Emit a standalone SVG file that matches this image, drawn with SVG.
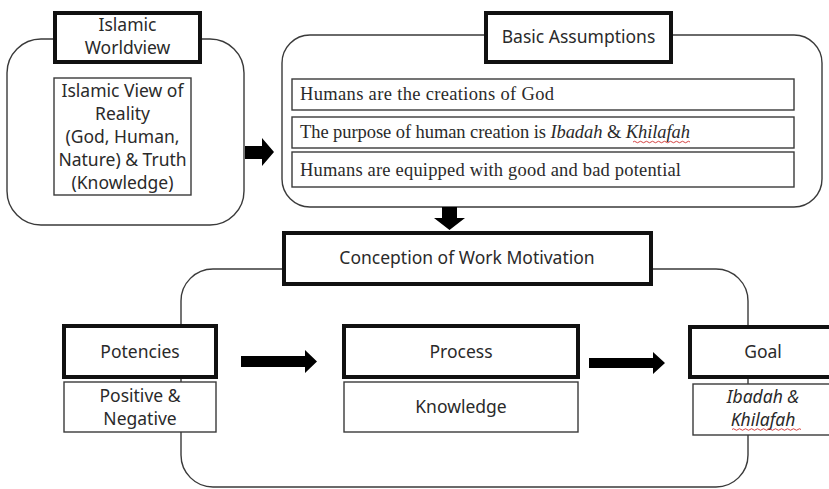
<svg xmlns="http://www.w3.org/2000/svg" width="829" height="489" viewBox="0 0 829 489">
<style>
.bg{fill:#ffffff}
.outer{fill:none;stroke:#3a3a3a;stroke-width:1.4}
.thick{fill:#ffffff;stroke:#111111;stroke-width:4}
.thin{fill:#ffffff;stroke:#3a3a3a;stroke-width:1.4}
.sans{font-family:"Noto Sans","Open Sans","Liberation Sans",sans-serif;font-size:17.5px;fill:#2a2a2a;text-anchor:middle}
.serif{font-family:"Liberation Serif","DejaVu Serif",serif;font-size:18.5px;fill:#2a2a2a}
.it{font-style:italic}
.arrow{fill:#000000}
.squiggle{fill:none;stroke:#d03030;stroke-width:0.9}
</style>
<rect class="bg" x="0" y="0" width="829" height="489"/>

<g id="worldview-frame">
  <rect class="outer" x="7" y="39" width="237" height="186" rx="34"/>
</g>
<g id="islamic-worldview">
  <rect class="thick" x="55" y="13" width="145" height="49"/>
  <text class="sans" x="127.5" y="31">Islamic</text>
  <text class="sans" x="127.5" y="54">Worldview</text>
</g>
<g id="islamic-view-of-reality">
  <rect class="thin" x="54" y="78" width="137" height="117"/>
  <text class="sans" x="122.5" y="97">Islamic View of</text>
  <text class="sans" x="122.5" y="120">Reality</text>
  <text class="sans" x="122.5" y="143">(God, Human,</text>
  <text class="sans" x="122.5" y="166">Nature) &amp; Truth</text>
  <text class="sans" x="122.5" y="189">(Knowledge)</text>
</g>

<g id="assumptions-frame">
  <rect class="outer" x="282" y="35" width="540" height="172" rx="28"/>
</g>
<g id="basic-assumptions">
  <rect class="thick" x="486" y="13" width="185" height="49"/>
  <text class="sans" x="578.5" y="43">Basic Assumptions</text>
</g>
<g id="assumption-1">
  <rect class="thin" x="292" y="79" width="502" height="31"/>
  <text class="serif" x="300" y="100" textLength="254" lengthAdjust="spacing">Humans are the creations of God</text>
</g>
<g id="assumption-2">
  <rect class="thin" x="292" y="117" width="502" height="31"/>
  <text class="serif" x="300" y="138" textLength="390" lengthAdjust="spacing">The purpose of human creation is <tspan class="it">Ibadah</tspan> &amp; <tspan class="it">Khilafah</tspan></text>
  <path class="squiggle" d="M633 142 q1.5 -1.5 3 0 t3 0 t3 0 t3 0 t3 0 t3 0 t3 0 t3 0 t3 0 t3 0 t3 0 t3 0 t3 0 t3 0 t3 0 t3 0 t3 0 t3 0 t3 0"/>
</g>
<g id="assumption-3">
  <rect class="thin" x="292" y="152" width="502" height="35"/>
  <text class="serif" x="300" y="176" textLength="381" lengthAdjust="spacing">Humans are equipped with good and bad potential</text>
</g>

<g id="motivation-frame">
  <rect class="outer" x="181" y="269" width="567" height="218" rx="32"/>
</g>
<g id="conception-of-work-motivation">
  <rect class="thick" x="284" y="233" width="367" height="51"/>
  <text class="sans" x="467" y="264">Conception of Work Motivation</text>
</g>
<g id="potencies">
  <rect class="thick" x="64" y="326" width="152" height="51"/>
  <text class="sans" x="140" y="358">Potencies</text>
</g>
<g id="positive-negative">
  <rect class="thin" x="64" y="382" width="152" height="50"/>
  <text class="sans" x="140" y="402">Positive &amp;</text>
  <text class="sans" x="140" y="425">Negative</text>
</g>
<g id="process">
  <rect class="thick" x="344" y="326" width="234" height="51"/>
  <text class="sans" x="461" y="358">Process</text>
</g>
<g id="knowledge">
  <rect class="thin" x="344" y="382" width="234" height="50"/>
  <text class="sans" x="461" y="413">Knowledge</text>
</g>
<g id="goal">
  <rect class="thick" x="690" y="327" width="150" height="50"/>
  <text class="sans" x="763" y="358">Goal</text>
</g>
<g id="ibadah-khilafah">
  <rect class="thin" x="693" y="384" width="147" height="51"/>
  <text class="sans it" x="763" y="403">Ibadah &amp;</text>
  <text class="sans it" x="763" y="426">Khilafah</text>
  <path class="squiggle" d="M732 429.5 q1.5 -1.5 3 0 t3 0 t3 0 t3 0 t3 0 t3 0 t3 0 t3 0 t3 0 t3 0 t3 0 t3 0 t3 0 t3 0 t3 0 t3 0 t3 0 t3 0 t3 0 t3 0 t3 0 t3 0 t3 0"/>
</g>

<g id="connectors">
  <polygon class="arrow" points="245,146 262,146 262,138 274,152 262,166 262,159 245,159"/>
  <polygon class="arrow" points="442,207 457,207 457,218 465,218 449.5,230 434,218 442,218"/>
  <polygon class="arrow" points="241,356 305,356 305,350 317,361.5 305,373 305,367 241,367"/>
  <polygon class="arrow" points="589,358 653,358 653,352 665,363 653,374 653,368 589,368"/>
</g>
</svg>
